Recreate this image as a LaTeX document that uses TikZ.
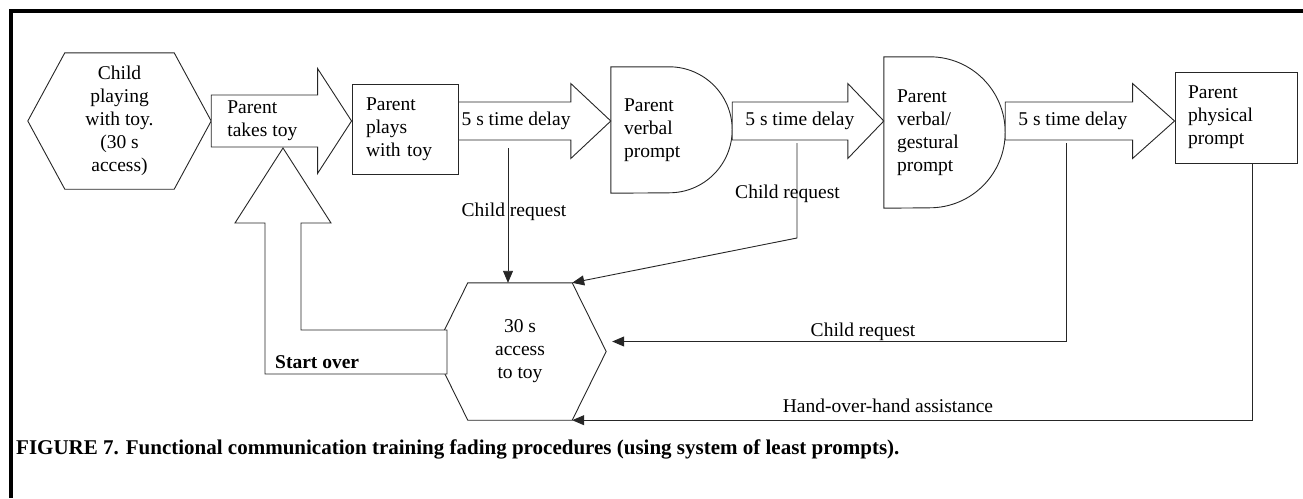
\documentclass[tikz,border=0pt]{standalone}
\usepackage{fontspec}
\setmainfont{Liberation Serif}
\usetikzlibrary{arrows.meta,calc,positioning}
\tikzset{
  txt/.style={inner sep=0pt, font=\fontsize{19.5}{23}\selectfont},
  shp/.style={draw=black!85, line width=0.9pt},
  blk/.style={shp, fill=white, line join=miter},
  conn/.style={draw=black!85, line width=0.9pt, -{Triangle[length=12pt,width=10pt]}},
}
\begin{document}
\begin{tikzpicture}[x=1pt,y=1pt]
    \useasboundingbox (0,0) rectangle (1303,-498);
    \draw[line width=3.2pt] (11,-498) -- (11,-11) -- (1303,-11);
    % the row of steps
    \coordinate (row) at (0,-121);
    \node[txt, minimum width=183pt, minimum height=136pt, align=center] (hex1) at (119.5,-121) {Child\\playing\\with toy.\\(30 s\\access)};
    \node[txt, shp, inner xsep=14pt, text width=78pt, minimum height=90pt, align=left] (box1) at (405,-129) {Parent\\plays\\with toy};
    \node[txt, inner xsep=13pt, text width=95pt, minimum height=126pt, align=left] (d1) at (671.5,-130) {Parent\\verbal\\prompt};
    \node[txt, inner xsep=13pt, text width=95pt, minimum height=151pt, align=left] (d2) at (944.5,-132.5) {Parent\\verbal/\\gestural\\prompt};
    \node[txt, shp, inner xsep=13pt, text width=96pt, minimum height=91pt, align=left] (box4) at (1236,-117.5) {Parent\\physical\\prompt};
    \node[txt, minimum width=172pt, minimum height=137pt, align=center] (hex2) at (520,-351.5) {30 s\\access\\to toy};
    % outlines
    \foreach \h/\d in {hex1/37, hex2/34}
    {
    \draw[shp] (\h.west) -- ([xshift=\d]\h.north west) -- ([xshift=-\d]\h.north east) coordinate (\h-ne) -- (\h.east) -- ([xshift=-\d]\h.south east) coordinate (\h-se) -- ([xshift=\d]\h.south west) -- cycle;
    }
    \foreach \d/\r in {d1/63, d2/75.5}
    {
    \draw[shp] (\d.south west) -- (\d.north west) -- ([xshift=-\r]\d.north east) arc[start angle=90, end angle=-90, radius=\r] -- cycle;
    }
    % block arrows
    \foreach \a/\b/\s/\h/\l in {hex1/box1/26/52.5/34, box1/d1/19/37.5/40, d1/d2/19/37.5/36, d2/box4/19/37.5/42}
    {
    \draw[blk] ($(\a.east |- row)+(0,\s)$) -- ($(\b.west |- row)+(-\l,\s)$) -- ($(\b.west |- row)+(-\l,\h)$) -- (\b.west |- row) -- ($(\b.west |- row)+(-\l,-\h)$) -- ($(\b.west |- row)+(-\l,-\s)$) -- ($(\a.east |- row)+(0,-\s)$) -- cycle;
    }
    \coordinate (so) at (283,-148);
    \draw[blk] (so) -- ++(48,-75) -- ++(-30,0) -- ++(0,-107) -- ++(146,0) -- ++(0,-44) -- ++(-182,0) -- ++(0,151) -- ++(-30,0) -- cycle;
    \node[txt, right=16pt of hex1.east, align=left] (take) {Parent\\takes toy};
    \node[txt, anchor=west] (del1) at ($(box1.east |- row)+(3,0)$) {5 s time delay};
    \node[txt, anchor=west] (del2) at ($(d1.east |- row)+(13,0)$) {5 s time delay};
    \node[txt, anchor=west] (del3) at ($(d2.east |- row)+(13,0)$) {5 s time delay};
    \node[txt, anchor=west, font=\fontsize{19.5}{23}\selectfont\bfseries] (start) at (275,-362) {Start over};
    % child requests and assistance
    \coordinate (r1) at (508,-148);
    \coordinate (r2) at (797,-143);
    \coordinate (r3) at (1066,-143);
    \draw[conn] (r1) -- (r1 |- hex2.north);
    \draw[conn] (r2) -- ++(0,-95) -- (hex2-ne);
    \draw[conn] (r3) |- ($(hex2.east)+(6,10)$);
    \draw[conn] ([xshift=16pt]box4.south) |- (hex2-se);
    \node[txt] (req1) at (514,-212) {Child request};
    \node[txt] (req2) at (787.5,-194) {Child request};
    \node[txt] (req3) at (863,-332) {Child request};
    \node[txt] (hand) at (888,-406) {Hand-over-hand assistance};
    \node[txt, anchor=west, font=\fontsize{21}{25}\selectfont\bfseries] (cap) at (16,-449) {FIGURE 7. Functional communication training fading procedures (using system of least prompts).};
\end{tikzpicture}
\end{document}
